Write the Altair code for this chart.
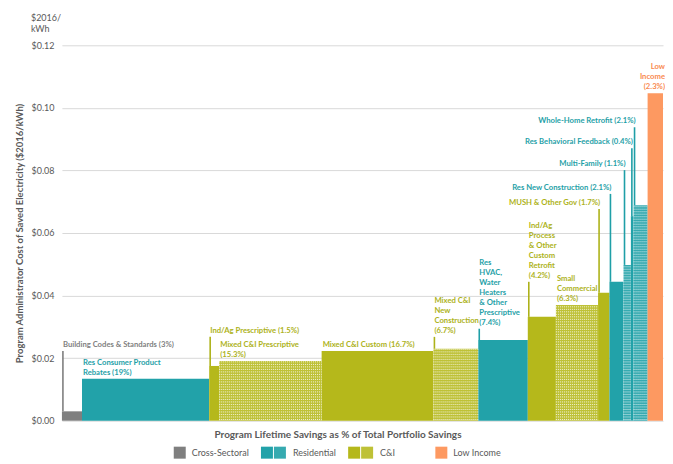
import altair as alt
import pandas as pd

programs = ["Building Codes & Standards", "Res Consumer Product Rebates", "Ind/Ag Prescriptive",
            "Mixed C&I Prescriptive", "Mixed C&I Custom", "Mixed C&I New Construction",
            "Res HVAC, Water Heaters & Other Prescriptive", "Ind/Ag Process & Other Custom Retrofit",
            "Small Commercial", "MUSH & Other Gov", "Res New Construction", "Multi-Family",
            "Res Behavioral Feedback", "Whole-Home Retrofit", "Low Income"]
sectors = ["Cross-Sectoral", "Residential", "C&I", "C&I", "C&I", "C&I", "Residential", "C&I",
           "C&I", "C&I", "Residential", "Residential", "Residential", "Residential", "Low Income"]
hatched = [False, False, False, True, False, True, False, False, True, False, False, True, False, True, False]
share_pct = [3, 19, 1.5, 15.3, 16.7, 6.7, 7.4, 4.2, 6.3, 1.7, 2.1, 1.1, 0.4, 2.1, 2.3]
cost_per_kwh = [0.0030, 0.0134, 0.0175, 0.0191, 0.0223, 0.0230, 0.0258, 0.0332, 0.0370,
                0.0409, 0.0444, 0.0498, 0.0654, 0.0689, 0.1047]
label_lines = [
    ["Building Codes & Standards (3%)"],
    ["Res Consumer Product", "Rebates (19%)"],
    ["Ind/Ag Prescriptive (1.5%)"],
    ["Mixed C&I Prescriptive", "(15.3%)"],
    ["Mixed C&I Custom (16.7%)"],
    ["Mixed C&I", "New", "Construction", "(6.7%)"],
    ["Res", "HVAC,", "Water", "Heaters", "& Other", "Prescriptive", "(7.4%)"],
    ["Ind/Ag", "Process", "& Other", "Custom", "Retrofit", "(4.2%)"],
    ["Small", "Commercial", "(6.3%)"],
    ["MUSH & Other Gov (1.7%)"],
    ["Res New Construction (2.1%)"],
    ["Multi-Family (1.1%)"],
    ["Res Behavioral Feedback (0.4%)"],
    ["Whole-Home Retrofit (2.1%)"],
    ["Low", "Income", "(2.3%)"],
]
label_level = [0.0223, 0.0134, 0.0268, 0.0191, 0.0223, 0.0268, 0.0294, 0.0444, 0.0370,
               0.0677, 0.0725, 0.0801, 0.0871, 0.0938, 0.1047]
label_anchor = ["start"] * 9 + ["leader"] * 5 + ["end"]

y_ticks = [0, 0.02, 0.04, 0.06, 0.08, 0.10, 0.12]
legend_items = ["Cross-Sectoral", "Residential", "C&I", "Low Income"]
legend_two_shades = [False, True, True, False]

# ---- styles ----
fill_domain = ["Cross-Sectoral", "Residential", "Residential hatched", "C&I", "C&I hatched", "Low Income"]
bar_fill_range = ["#7f7f7f", "#22a2a9", "#36aab0", "#b5b81b", "#bec136", "#fd9961"]
legend_fill_range = ["#7f7f7f", "#22a2a9", "#52b8bd", "#b5b81b", "#c6c955", "#fd9961"]
text_domain = ["Cross-Sectoral", "Residential", "C&I", "Low Income"]
text_range = ["#7f7f7f", "#1f9fa7", "#adb21a", "#f98a4f"]
FONT = "Lato"
GREY = "#595959"
LINE_H = 10
HATCH_STEP = 0.0008

df = pd.DataFrame({
    "program": programs,
    "sector": sectors,
    "hatched": hatched,
    "share": share_pct,
    "cost": cost_per_kwh,
    "label": label_lines,
    "level": label_level,
    "anchor": label_anchor,
})
df["x1"] = df["share"].cumsum()
df["x0"] = df["x1"] - df["share"]
df["key"] = df["sector"] + df["hatched"].map({True: " hatched", False: ""})
df["lx"] = df["x0"].where(df["anchor"] != "end", df["x1"])
df["nlines"] = df["label"].map(len)

total = float(df["x1"].iloc[-1])
xscale = alt.Scale(domain=[0, total], nice=False, zero=True)
yscale = alt.Scale(domain=[0, 0.12], nice=False)
text_color = alt.Color("sector:N", scale=alt.Scale(domain=text_domain, range=text_range), legend=None)

base = alt.Chart(df)

bars = base.mark_rect().encode(
    x=alt.X("x0:Q", scale=xscale,
            axis=alt.Axis(labels=False, ticks=False, domain=False, grid=False,
                          title="Program Lifetime Savings as % of Total Portfolio Savings",
                          titleFont=FONT, titleFontSize=10, titleFontWeight="bold",
                          titleColor=GREY, titleX=276, titleY=14, titleBaseline="middle")),
    x2="x1:Q",
    y=alt.Y("cost:Q", scale=yscale,
            axis=alt.Axis(values=y_ticks, format="$.2f", ticks=False, domain=False,
                          gridColor="#d9d9d9", labelFont=FONT, labelFontSize=9,
                          labelColor=GREY, labelPadding=8,
                          title="Program Administrator Cost of Saved Electricity  ($2016/kWh)",
                          titleFont=FONT, titleFontSize=9.5, titleFontWeight="bold",
                          titleColor=GREY, titlePadding=6)),
    y2=alt.datum(0),
    fill=alt.Fill("key:N", scale=alt.Scale(domain=fill_domain, range=bar_fill_range), legend=None),
)

# dotted texture on the patterned bars
texture = base.transform_filter("datum.hatched").transform_calculate(
    row=f"sequence({HATCH_STEP / 2}, datum.cost, {HATCH_STEP})"
).transform_flatten(["row"]).mark_rule(
    color="white", strokeWidth=1, strokeDash=[1, 1], opacity=0.85
).encode(
    x=alt.X("x0:Q", scale=xscale),
    x2="x1:Q",
    y=alt.Y("row:Q", scale=yscale),
)

leaders = base.transform_filter("datum.level > datum.cost").mark_rule(
    strokeWidth=1.6, xOffset=1
).encode(
    x=alt.X("x0:Q", scale=xscale),
    y=alt.Y("level:Q", scale=yscale),
    y2="cost:Q",
    color=text_color,
)

label_layers = []
for n in sorted(df["nlines"].unique()):
    for is_left in (True, False):
        cond = "datum.anchor == 'start'" if is_left else "datum.anchor != 'start'"
        label_layers.append(
            base.transform_filter(f"datum.nlines == {n} && {cond}").mark_text(
                align="left" if is_left else "right", dx=1 if is_left else 2,
                dy=-(int(n) - 1) * LINE_H - 2,
                font=FONT, fontSize=7.7, fontWeight="bold", baseline="bottom", lineHeight=LINE_H,
            ).encode(
                x=alt.X("lx:Q", scale=xscale),
                y=alt.Y("level:Q", scale=yscale),
                text="label",
                color=text_color,
            )
        )

main = alt.layer(bars, texture, leaders, *label_layers).properties(
    width=602, height=376,
    title=alt.TitleParams(["$2016/", "kWh"], anchor="start", frame="group", dx=-31,
                          font=FONT, fontSize=9, fontWeight="normal", color=GREY,
                          lineHeight=11, offset=7),
)

# ---- legend ----
ldf = pd.DataFrame({"item": legend_items, "two": legend_two_shades})
ldf["shade1"] = ldf["item"]
ldf["shade2"] = ldf["item"] + " hatched"
lx = alt.X("item:N", scale=alt.Scale(type="point", domain=legend_items, range=[112, 374], padding=0),
           axis=None)
lfill = alt.Scale(domain=fill_domain, range=legend_fill_range)
lbase = alt.Chart(ldf)
sw1 = lbase.mark_point(shape="square", filled=True, size=144, opacity=1, xOffset=6).encode(
    x=lx, fill=alt.Fill("shade1:N", scale=lfill, legend=None))
sw2 = lbase.transform_filter("datum.two").mark_point(
    shape="square", filled=True, size=144, opacity=1, xOffset=19).encode(
    x=lx, fill=alt.Fill("shade2:N", scale=lfill, legend=None))
lt1 = lbase.transform_filter("!datum.two").mark_text(
    align="left", font=FONT, fontSize=9, color=GREY, xOffset=18).encode(x=lx, text="item:N")
lt2 = lbase.transform_filter("datum.two").mark_text(
    align="left", font=FONT, fontSize=9, color=GREY, xOffset=32).encode(x=lx, text="item:N")
legend = alt.layer(sw1, sw2, lt1, lt2).properties(width=602, height=6)

chart = alt.vconcat(main, legend, spacing=7).properties(
    padding={"left": 6, "top": 6, "right": 0, "bottom": 0}
).configure_view(stroke=None).configure_scale(bandPaddingInner=0)

chart.save("out.html", embed_options={"renderer": "svg", "actions": False})
